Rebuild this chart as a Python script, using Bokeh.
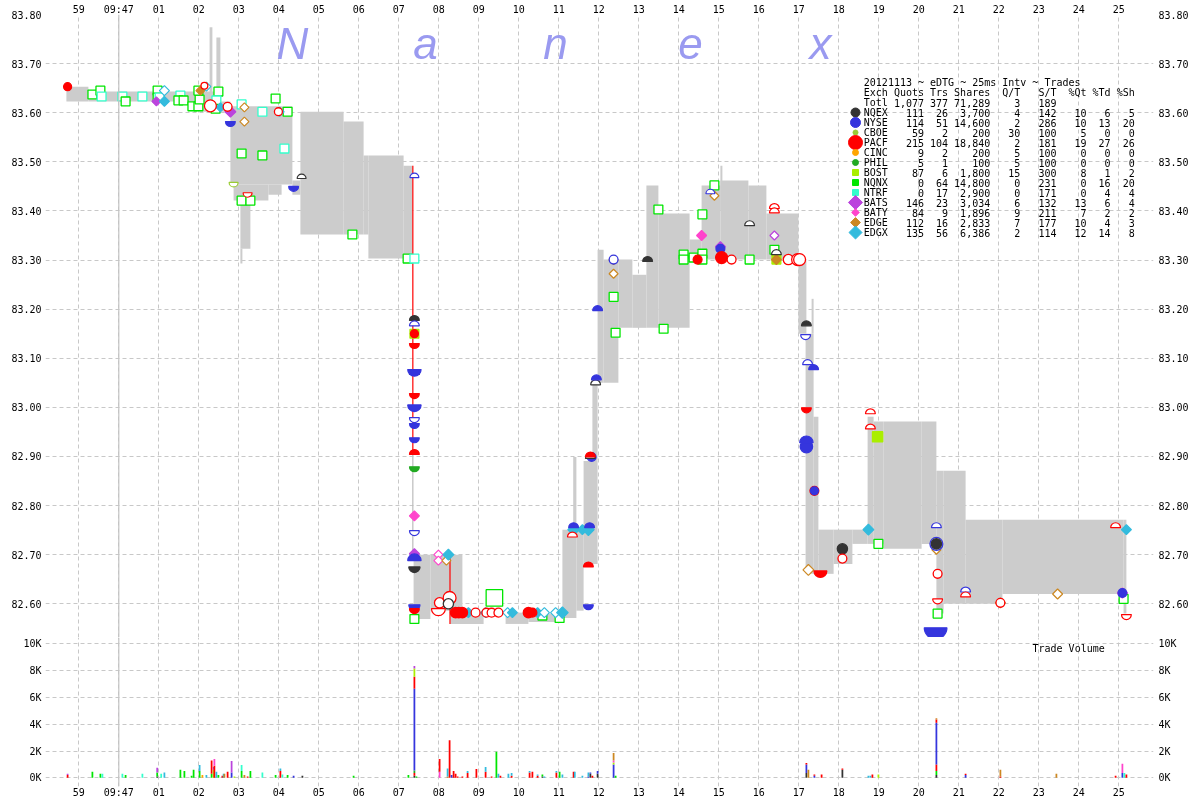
import math
from bokeh.plotting import figure
from bokeh.layouts import column
from bokeh.models import ColumnDataSource, FixedTicker, Range1d, Span, NumeralTickFormatter, LinearAxis
from bokeh.core.properties import value
from bokeh.embed import file_html
from bokeh.resources import INLINE

# ------------------------------------------------------------------ data
TICK_SECONDS = list(range(27))
TICK_LABELS = ["59", "09:47"] + ["%02d" % i for i in range(1, 26)]
PRICE_TICKS = [82.6, 82.7, 82.8, 82.9, 83.0, 83.1, 83.2, 83.3, 83.4, 83.5, 83.6, 83.7, 83.8]
VOL_TICKS = [0, 2000, 4000, 6000, 8000, 10000]
VOL_LABELS = ["0K", "2K", "4K", "6K", "8K", "10K"]

LEG_TITLE = "20121113 ~ eDTG ~ 25ms Intv ~ Trades"
LEG_HEAD = ["Quots", "Trs", "Shares", "Q/T", "S/T", "%Qt", "%Td", "%Sh"]
TOTALS = [1077, 377, 71289, 3, 189]
EXCH = ["NQEX", "NYSE", "CBOE", "PACF", "CINC", "PHIL", "BOST", "NQNX", "NTRF", "BATS", "BATY", "EDGE", "EDGX"]
QUOTS = [111, 114, 59, 215, 9, 5, 87, 0, 0, 146, 84, 112, 135]
TRS = [26, 51, 2, 104, 2, 1, 6, 64, 17, 23, 9, 16, 56]
SHARES = [3700, 14600, 200, 18840, 200, 100, 1800, 14800, 2900, 3034, 1896, 2833, 6386]
Q_T = [4, 2, 30, 2, 5, 5, 15, 0, 0, 6, 9, 7, 2]
S_T = [142, 286, 100, 181, 100, 100, 300, 231, 171, 132, 211, 177, 114]
PCT_QT = [10, 10, 5, 19, 0, 0, 8, 0, 0, 13, 7, 10, 12]
PCT_TD = [6, 13, 0, 27, 0, 0, 1, 16, 4, 6, 2, 4, 14]
PCT_SH = [5, 20, 0, 26, 0, 0, 2, 20, 4, 4, 2, 3, 8]

# NBBO spread band (seconds after 09:46:59, bid, ask)
BAND_T0 = [-0.31, 0.24, 2.97, 3.27, 3.44, 3.54, 3.79, 3.87, 4.74, 4.04, 4.04, 5.34, 5.54, 6.62, 7.12, 7.24, 8.12,
           8.37, 8.79, 9.29, 10.67, 11.24, 12.09, 12.44, 12.36, 12.62, 12.84, 12.97, 13.12, 13.49, 13.84, 14.19,
           14.49, 15.27, 15.57, 16.04, 16.04, 16.74, 17.19, 17.99, 18.17, 18.32, 18.37, 18.49, 18.87, 19.34, 19.72,
           19.87, 20.12, 21.07, 21.44, 21.62, 22.17, 23.09, 26.12]
BAND_T1 = [0.24, 2.97, 3.54, 3.34, 3.54, 3.79, 5.34, 4.74, 5.07, 4.29, 4.09, 5.54, 6.62, 7.12, 7.24, 8.12, 8.34,
           8.79, 9.59, 10.12, 11.24, 12.09, 12.44, 12.62, 12.44, 12.97, 12.97, 13.12, 13.49, 13.84, 14.19, 14.49,
           15.27, 15.57, 16.04, 16.74, 16.09, 17.19, 17.99, 18.19, 18.37, 18.37, 18.49, 18.87, 19.34, 19.72, 19.87,
           20.12, 21.07, 21.44, 21.62, 22.17, 23.09, 26.12, 26.19]
BAND_BID = [83.623, 83.623, 83.602, 83.620, 83.620, 83.602, 83.454, 83.421, 83.433, 83.323, 83.293, 83.433, 83.352,
            83.352, 83.352, 83.303, 83.303, 82.569, 82.586, 82.559, 82.559, 82.563, 82.571, 82.586, 82.751, 82.681,
            82.891, 83.050, 83.050, 83.162, 83.162, 83.162, 83.162, 83.301, 83.301, 83.301, 83.400, 83.301, 83.301,
            83.150, 82.661, 83.150, 82.661, 82.661, 82.681, 82.722, 82.722, 82.722, 82.712, 82.722, 82.580, 82.600,
            82.600, 82.620, 82.580]
BAND_ASK = [83.653, 83.643, 83.643, 83.774, 83.753, 83.623, 83.613, 83.454, 83.454, 83.421, 83.323, 83.462, 83.602,
            83.582, 83.513, 83.513, 83.492, 82.700, 82.700, 82.582, 82.582, 82.580, 82.751, 82.751, 82.899, 82.891,
            83.050, 83.321, 83.301, 83.301, 83.270, 83.452, 83.395, 83.342, 83.452, 83.462, 83.492, 83.452, 83.395,
            83.301, 83.150, 83.221, 82.981, 82.751, 82.751, 82.751, 82.981, 82.971, 82.971, 82.971, 82.871, 82.871,
            82.771, 82.771, 82.771]

# trade-through lines
LINE_T = [8.35, 8.35, 9.28]
LINE_P0 = [83.492, 82.905, 82.700]
LINE_P1 = [82.905, 82.700, 82.559]
LINE_EX = ["PACF", "", "PACF"]

# trades: time, price, exchange, kind (F filled, H hollow, U/u upper half, D/d lower half), shares
TR_T = [-0.28, 0.34, 0.54, 0.57, 1.09, 1.17, 1.59, 1.94, 1.97, 1.97, 2.02, 2.14, 2.14, 2.54, 2.49, 2.62, 2.84, 2.99,
        3.02, 2.99, 3.04, 3.14, 3.19, 3.49, 3.44, 3.42, 3.29, 3.72, 3.54, 3.79, 3.79, 4.07, 4.14, 4.14, 4.59, 4.92,
        4.99, 5.02, 5.22, 5.14, 4.07, 4.59, 3.87, 4.22, 4.07, 4.29, 5.57, 5.37, 6.84, 8.39, 8.22, 8.39,
        8.39, 8.39, 8.39, 8.39, 8.39, 8.39, 8.39, 8.39, 8.39, 8.39, 8.39,
        8.39, 8.39, 8.39, 8.39, 8.39, 8.39, 8.39, 8.39, 8.39, 8.39, 8.39,
        8.99, 8.99, 9.19, 9.24, 9.02, 8.99, 9.27, 9.24, 9.42, 9.50, 9.59, 9.74, 9.92, 10.17,
        10.19, 10.32, 10.49, 10.39, 10.72, 10.84, 11.24, 11.34, 11.47, 11.59, 11.64, 11.92, 12.09, 12.02,
        12.37, 12.37, 12.59, 12.77, 12.74, 12.34, 12.74, 12.74, 12.79, 12.79, 12.82, 12.92, 12.94, 12.97, 13.37,
        13.37, 13.37, 13.37, 13.42,
        14.22, 14.49, 14.62, 15.12, 15.12, 15.37, 15.59, 15.59, 15.59, 15.57, 15.47, 15.79, 15.89, 15.89, 16.04,
        16.04, 16.07, 16.32, 16.77, 16.77, 17.39, 17.39, 17.39, 17.39, 17.44, 17.44, 17.44, 17.74, 17.97, 18.02,
        18.19, 18.17, 18.22, 18.37, 18.19, 18.19, 18.19, 18.39, 18.39, 18.24, 18.54, 19.09, 19.09, 19.74, 19.99,
        19.79, 19.79, 19.97,
        21.44, 21.44, 21.44, 21.44, 21.47, 21.47, 21.47, 21.42, 22.17, 22.17, 23.04, 23.04, 24.47, 25.92, 26.19,
        26.09, 26.09, 26.12, 26.19]
TR_P = [83.653, 83.637, 83.645, 83.633, 83.633, 83.623, 83.633, 83.623, 83.645, 83.631, 83.631, 83.645, 83.623,
        83.635, 83.625, 83.625, 83.613, 83.613, 83.627, 83.645, 83.645, 83.655, 83.653, 83.643, 83.625, 83.608,
        83.614, 83.612, 83.611, 83.602, 83.582, 83.617, 83.611, 83.582, 83.602, 83.629, 83.602, 83.602, 83.602,
        83.527, 83.517, 83.513, 83.458, 83.437, 83.421, 83.421, 83.466, 83.450, 83.352, 83.468, 83.303, 83.303,
        83.177, 83.166, 83.150, 83.150, 83.130, 83.077, 83.067, 83.028, 83.005, 82.979, 82.967,
        82.938, 82.904, 82.879, 82.779, 82.749, 82.702, 82.688, 82.675, 82.598, 82.590, 82.569,
        82.700, 82.688, 82.688, 82.700, 82.602, 82.590, 82.612, 82.600, 82.582, 82.582, 82.582, 82.582, 82.582,
        82.582, 82.582, 82.582, 82.582, 82.612, 82.582, 82.582, 82.582, 82.582, 82.582, 82.576, 82.582, 82.582,
        82.582, 82.571,
        82.755, 82.751, 82.751, 82.755, 82.751, 82.736, 82.675, 82.598, 82.896, 82.899, 82.899, 83.046, 83.056,
        83.197, 83.301, 83.300, 83.272, 83.225, 83.152,
        83.297, 83.403, 83.160, 83.311, 83.301, 83.305, 83.313, 83.301, 83.393, 83.350, 83.301, 83.435, 83.431,
        83.452, 83.327, 83.323, 83.305, 83.301, 83.301, 83.370, 83.405, 83.396, 83.350, 83.321, 83.311, 83.301,
        83.301, 83.301, 83.301, 83.301,
        83.166, 83.148, 83.087, 83.077, 82.999, 82.928, 82.920, 82.830, 82.830, 82.669, 82.667, 82.712, 82.692,
        82.751, 82.722, 82.987, 82.956, 82.940,
        82.755, 82.722, 82.722, 82.710, 82.661, 82.610, 82.580, 82.551, 82.624, 82.614, 82.602, 82.602, 82.620,
        82.755, 82.751, 82.622, 82.622, 82.610, 82.578]
TR_EX = ["PACF", "NQNX", "NQNX", "NTRF", "NTRF", "NQNX", "NTRF", "BATS", "NQNX", "NQNX", "NTRF", "EDGX", "EDGX",
         "NTRF", "NQNX", "NQNX", "NQNX", "NQNX", "NQNX", "NQNX", "EDGE", "PACF", "EDGX", "NQNX", "NTRF", "NQNX",
         "PACF", "PACF", "EDGX", "BATS", "NYSE", "NTRF", "EDGE", "EDGE", "NTRF", "NQNX", "PACF", "EDGX", "NQNX",
         "NTRF", "NQNX", "NQNX", "CBOE", "PACF", "NQNX", "NQNX", "NQEX", "NYSE", "NQNX", "NYSE", "NQNX", "NTRF",
         "NQEX", "NYSE", "BOST", "PACF", "PACF", "NYSE", "NQEX", "PACF", "NYSE", "NYSE", "NYSE",
         "NYSE", "PACF", "PHIL", "BATY", "NYSE", "BATS", "NYSE", "NQEX", "NYSE", "PACF", "NQNX",
         "BATY", "BATY", "EDGE", "EDGX", "PACF", "PACF", "PACF", "NQEX", "PACF", "PACF", "PACF", "EDGX", "PACF",
         "EDGX", "PACF", "PACF", "PACF", "NQNX", "EDGX", "EDGX", "PACF", "PACF", "EDGX", "NQNX", "EDGX", "EDGX",
         "EDGX", "NQNX",
         "NYSE", "EDGX", "EDGX", "NYSE", "EDGX", "PACF", "PACF", "NYSE", "NQEX", "PACF", "NYSE", "NQEX", "NYSE",
         "NYSE", "NYSE", "EDGE", "EDGE", "NQNX", "NQNX",
         "NQEX", "NQNX", "NQNX", "NQNX", "NQNX", "NQNX", "NQNX", "NQNX", "NQNX", "BATY", "PACF", "NYSE", "EDGE",
         "NQNX", "BATS", "NYSE", "PACF", "PACF", "NQNX", "NQEX", "PACF", "PACF", "BATS", "NQNX", "NQEX", "BOST",
         "EDGE", "PACF", "PACF", "PACF",
         "NQEX", "NYSE", "NYSE", "NYSE", "PACF", "NYSE", "NYSE", "PACF", "NYSE", "EDGE", "PACF", "NQEX", "PACF",
         "EDGX", "NQNX", "PACF", "PACF", "BOST",
         "NYSE", "NYSE", "NQEX", "EDGE", "PACF", "PACF", "NQNX", "NYSE", "NYSE", "PACF", "EDGE", "PACF", "EDGE",
         "PACF", "EDGX", "BATY", "NYSE", "NQNX", "PACF"]
TR_KIND = list("FHHHHHHFHHHHFHHHHHHHFHHHHHHHFFDHHHHHHFHHHHddHHuDHuHH"
               "UuFFDDUDDdDDUDFdFUDDDH"
               "HHHFHdHHFFFFHFHHHHHFFFFHHHFH"
               "UFFUFuUDuUFuUUHHHHH"
               "UHHHHHHHHFFuHHFFFHHuuuHHuFFHHH"
               "UduUDUFFFHDFHFHuuF"
               "uHFHHdHDuuHHHuFHFHd")
TR_SH = [200, 300, 300, 300, 300, 300, 300, 200, 300, 300, 300, 300, 300, 300, 300, 300, 300, 300, 300, 300, 200,
         100, 200, 300, 300, 300, 800, 300, 200, 400, 300, 300, 200, 200, 300, 300, 200, 200, 300, 300, 300, 300,
         200, 200, 300, 300, 200, 300, 300, 200, 300, 300,
         300, 300, 300, 200, 300, 900, 300, 300, 900, 300, 300,
         300, 300, 300, 300, 300, 300, 900, 500, 500, 300, 300,
         200, 200, 200, 400, 500, 1000, 1000, 500, 500, 500, 500, 300, 300, 300,
         300, 300, 300, 2000, 300, 300, 500, 300, 300, 300, 300, 300, 500, 300,
         300, 500, 300, 300, 500, 300, 300, 300, 300, 300, 300, 300, 300, 300, 300, 200, 200, 300, 300,
         300, 300, 300, 300, 300, 300, 300, 300, 300, 300, 300, 200, 200, 300, 300, 300, 800, 300, 300, 300, 300,
         300, 200, 300, 300, 300, 300, 500, 800, 800,
         300, 300, 300, 300, 300, 900, 900, 300, 200, 400, 800, 500, 300, 400, 300, 300, 300, 500,
         300, 1000, 500, 200, 300, 300, 300, 4000, 300, 300, 300, 300, 300, 300, 300, 300, 300, 300, 300]

# trade volume (stacked in listed order at equal times)
VOL_T = [-0.28, -0.28, 0.34, 0.54, 0.59, 1.09, 1.17, 1.59, 1.96, 1.96, 1.96, 2.06, 2.14, 2.54, 2.64, 2.82, 2.87,
         3.02, 3.02, 3.09, 3.19, 3.32, 3.32, 3.37, 3.37, 3.39, 3.39, 3.44, 3.49, 3.59, 3.62, 3.64, 3.72, 3.82, 3.82,
         3.89, 4.07, 4.07, 4.14, 4.22, 4.29, 4.59, 4.92, 5.04, 5.04, 5.09, 5.22, 5.37, 5.59, 6.87, 8.24,
         8.39, 8.39, 8.39, 8.39, 8.39, 8.39, 8.39, 8.44, 9.02, 9.02, 9.22, 9.22, 9.27, 9.32, 9.37, 9.42, 9.47, 9.59,
         9.72, 9.72, 9.94, 10.17, 10.17, 10.32, 10.44, 10.49, 10.54, 10.74, 10.82, 10.82, 11.27, 11.27, 11.34,
         11.47, 11.47, 11.59, 11.59, 11.64, 11.94, 11.94, 12.02, 12.09, 12.37, 12.40, 12.59, 12.74, 12.74, 12.79,
         12.79, 12.84, 12.97, 12.97, 13.37, 13.37, 13.37, 13.37, 13.42,
         18.19, 18.19, 18.19, 18.24, 18.39, 18.39, 18.57, 19.09, 19.09, 19.74, 19.79, 19.84, 19.99,
         21.44, 21.44, 21.44, 21.44, 21.44, 21.44, 22.17, 22.17, 23.04, 23.04, 24.44, 25.92, 26.09, 26.09, 26.14,
         26.19]
VOL_EX = ["PACF", "BATS", "NQNX", "NQNX", "NTRF", "NTRF", "NQNX", "NTRF", "NQEX", "NQNX", "BATS", "NTRF", "EDGX",
          "NQNX", "NQNX", "NQNX", "NQNX", "NQNX", "EDGX", "CINC", "EDGX", "NQNX", "PACF", "BOST", "BATS", "PACF",
          "BATY", "EDGX", "NQNX", "PACF", "EDGX", "EDGE", "PACF", "NYSE", "BATS", "BOST", "NQNX", "NTRF", "EDGE",
          "PACF", "NQNX", "NTRF", "NQNX", "PACF", "EDGX", "NTRF", "NQNX", "NYSE", "NQEX", "NQNX", "NQNX",
          "NQEX", "PACF", "PHIL", "NYSE", "PACF", "BOST", "BATS", "NQNX", "BATY", "PACF", "EDGE", "EDGX", "PACF",
          "NYSE", "PACF", "PACF", "PACF", "PACF", "PACF", "EDGX", "PACF", "PACF", "EDGX", "PACF", "NQNX", "EDGX",
          "PACF", "EDGX", "PACF", "EDGX", "PACF", "EDGX", "PACF", "PACF", "EDGX", "NQEX", "NQNX", "EDGX", "PACF",
          "EDGX", "NQNX", "EDGX", "PACF", "EDGX", "EDGX", "NYSE", "EDGX", "NQEX", "NYSE", "PACF", "NQEX", "NYSE",
          "NYSE", "BOST", "BATY", "EDGE", "NQNX",
          "NQEX", "NYSE", "PACF", "EDGE", "NYSE", "PACF", "PACF", "NQEX", "PACF", "EDGX", "EDGX", "PACF", "BOST",
          "NQEX", "NQNX", "PACF", "NYSE", "PACF", "EDGE", "NYSE", "PACF", "PACF", "EDGE", "EDGE", "PACF", "NYSE",
          "BATY", "NTRF", "PACF"]
VOL_SH = [200, 100, 450, 300, 300, 300, 200, 300, 100, 300, 350, 300, 400, 600, 500, 150, 600, 500, 450, 200, 200,
          300, 1000, 600, 200, 900, 500, 450, 200, 150, 300, 300, 450, 400, 850, 100, 500, 450, 200, 100, 500, 400,
          200, 500, 200, 250, 200, 150, 150, 150, 200,
          150, 200, 200, 6100, 900, 600, 200, 100, 450, 950, 100, 600, 2800, 200, 500, 300, 100, 100, 350, 150, 650,
          450, 350, 100, 1950, 300, 150, 300, 150, 200, 400, 100, 450, 150, 100, 100, 150, 100, 400, 100, 450, 250,
          450, 450, 150, 100, 300, 300, 100, 150, 300, 200, 1000, 150, 150, 550, 150,
          350, 650, 100, 600, 150, 100, 250, 600, 100, 150, 150, 250, 250,
          200, 300, 500, 3100, 250, 100, 200, 100, 100, 500, 300, 150, 350, 700, 350, 250]

# ------------------------------------------------------------------ styles
EX_COLOR = {"NQEX": "#333333", "NYSE": "#3535dd", "CBOE": "#99cc33", "PACF": "#ff0000", "CINC": "#ffa500",
            "PHIL": "#22aa22", "BOST": "#aaee00", "NQNX": "#00e600", "NTRF": "#33ffcc", "BATS": "#bb44dd",
            "BATY": "#ff44cc", "EDGE": "#cc8822", "EDGX": "#33bbdd"}
FAMILY = {"NQEX": "circle", "NYSE": "circle", "CBOE": "circle", "PACF": "circle", "CINC": "circle",
          "PHIL": "circle", "BOST": "square", "NQNX": "square", "NTRF": "square", "BATS": "diamond",
          "BATY": "diamond", "EDGE": "diamond", "EDGX": "diamond"}
LEG_SIZE = [9, 10, 5, 14, 6, 6, 6, 6, 6, 13, 7, 9, 12]
MONO = value("DejaVu Sans Mono")
GRID_C = "#c8c8c8"

# pixel layout of the reference (used for the ranges and the annotation placement)
PPX = 1.2 / (603.3 - 14.0)
SPLIT = 637  # pixel row where the price panel ends and the volume panel starts


def t_at(px):
    return (px - 78.3) / 40.0


def p_at(py):
    return 83.80 - (py - 14.0) * PPX


def v_at(py):
    return (777.3 - py) * 1000.0 / 13.4


xr = Range1d(t_at(45), t_at(1153))


def style_axis(ax):
    ax.axis_line_color = None
    ax.major_tick_line_color = None
    ax.minor_tick_line_color = None
    ax.major_tick_out = 0
    ax.major_tick_in = 0
    ax.major_label_text_font = "DejaVu Sans Mono"
    ax.major_label_text_font_size = "10px"
    ax.major_label_text_color = "#000000"


# ------------------------------------------------------------------ price figure
p1 = figure(width=1200, height=SPLIT, x_range=xr, y_range=Range1d(p_at(SPLIT), 83.80),
            x_axis_location="above", output_backend="svg", toolbar_location=None,
            min_border_left=45, min_border_right=47, min_border_top=14, min_border_bottom=0,
            outline_line_color=None, background_fill_color="white", border_fill_color="white")
p1.xaxis.ticker = FixedTicker(ticks=TICK_SECONDS)
p1.xaxis.major_label_overrides = dict(zip(TICK_SECONDS, TICK_LABELS))
p1.xaxis.major_label_standoff = 0
p1.yaxis.ticker = FixedTicker(ticks=PRICE_TICKS)
p1.yaxis.formatter = NumeralTickFormatter(format="0.00")
p1.yaxis.major_label_standoff = 4
ax_r = LinearAxis(ticker=FixedTicker(ticks=PRICE_TICKS), formatter=NumeralTickFormatter(format="0.00"),
                  major_label_standoff=5)
p1.add_layout(ax_r, "right")
for ax in list(p1.xaxis) + list(p1.yaxis) + [ax_r]:
    style_axis(ax)
p1.xgrid.ticker = FixedTicker(ticks=TICK_SECONDS)
p1.ygrid.ticker = FixedTicker(ticks=PRICE_TICKS)
for g in (p1.xgrid, p1.ygrid):
    g.grid_line_color = GRID_C
    g.grid_line_dash = "4 3"
    g.grid_line_width = 1
p1.add_layout(Span(location=1, dimension="height", line_color="#c4c4c4", line_width=1.2))

# watermark
p1.text(x=[t_at(px) for px in (292, 425, 555, 690, 820)], y=[p_at(43)] * 5, text=list("Nanex"),
        text_font=value("Liberation Sans"), text_font_style="italic", text_font_size="44px",
        text_color="#9a9af0", text_align="center", text_baseline="middle")

# NBBO band
p1.quad(left=BAND_T0, right=BAND_T1, bottom=BAND_BID, top=BAND_ASK, fill_color="#cccccc", line_color=None)

# trade-through lines
p1.segment(x0=LINE_T, y0=LINE_P0, x1=LINE_T, y1=LINE_P1,
           line_color=[EX_COLOR[e] if e else "#bbbbbb" for e in LINE_EX],
           line_width=1.5, line_alpha=0.8)


def msize(sh):
    return 4 + 2.8 * math.sqrt(sh / 100.0)


groups = {k: dict(t=[], p=[], s=[], fc=[], lc=[]) for k in ("square", "diamond", "circle", "up", "down")}
for t, pr, ex, kd, sh in zip(TR_T, TR_P, TR_EX, TR_KIND, TR_SH):
    col = EX_COLOR[ex]
    fc = col if kd in "FUD" else "white"
    if kd in "Uu":
        g = "up"
    elif kd in "Dd":
        g = "down"
    else:
        g = FAMILY[ex]
    s = msize(sh)
    if g == "diamond":
        s = s / 1.25
    if g in ("up", "down"):
        s = s / 2.0 + 0.5
    G = groups[g]
    G["t"].append(t); G["p"].append(pr); G["s"].append(s); G["fc"].append(fc); G["lc"].append(col)

p1.scatter("t", "p", size="s", marker="square", fill_color="fc", line_color="lc", line_width=1.3,
           source=ColumnDataSource(groups["square"]))
p1.scatter("t", "p", size="s", marker="square", angle=math.pi / 4, fill_color="fc", line_color="lc",
           line_width=1.2, source=ColumnDataSource(groups["diamond"]))
p1.scatter("t", "p", size="s", marker="circle", fill_color="fc", line_color="lc", line_width=1.3,
           source=ColumnDataSource(groups["circle"]))
p1.wedge("t", "p", radius="s", radius_units="screen", start_angle=0, end_angle=math.pi,
         fill_color="fc", line_color="lc", line_width=1.2, source=ColumnDataSource(groups["up"]))
p1.wedge("t", "p", radius="s", radius_units="screen", start_angle=math.pi, end_angle=2 * math.pi,
         fill_color="fc", line_color="lc", line_width=1.2, source=ColumnDataSource(groups["down"]))

# legend table
LX = 863.3
CW = 6.02
COL_END = [9, 13, 20, 25, 31, 36, 40, 44]
lx, ly, lt = [t_at(LX)], [p_at(82)], [LEG_TITLE]
lx.append(t_at(LX)); ly.append(p_at(92)); lt.append("Exch")
lx.append(t_at(LX)); ly.append(p_at(102)); lt.append("Totl")
rx, ry, rt = [], [], []
for c, h in zip(COL_END, LEG_HEAD):
    rx.append(t_at(LX + CW * (c + 1))); ry.append(p_at(92)); rt.append(h)
for c, v in zip(COL_END, TOTALS):
    rx.append(t_at(LX + CW * (c + 1))); ry.append(p_at(102)); rt.append("{:,}".format(v))
for i, ex in enumerate(EXCH):
    yy = p_at(112 + 10 * i)
    lx.append(t_at(LX)); ly.append(yy); lt.append(ex)
    vals = [QUOTS[i], TRS[i], SHARES[i], Q_T[i], S_T[i], PCT_QT[i], PCT_TD[i], PCT_SH[i]]
    for c, v in zip(COL_END, vals):
        rx.append(t_at(LX + CW * (c + 1))); ry.append(yy); rt.append("{:,}".format(v))
p1.text(x=lx, y=ly, text=lt, text_font=MONO, text_font_size="10px", text_color="#000000",
        text_align="left", text_baseline="middle")
p1.text(x=rx, y=ry, text=rt, text_font=MONO, text_font_size="10px", text_color="#000000",
        text_align="right", text_baseline="middle")
leg = dict(t=[t_at(855)] * len(EXCH), p=[p_at(112 + 10 * i) for i in range(len(EXCH))],
           c=[EX_COLOR[e] for e in EXCH],
           s=[s / 1.3 if FAMILY[e] == "diamond" else s for s, e in zip(LEG_SIZE, EXCH)],
           m=["circle" if FAMILY[e] == "circle" else "square" for e in EXCH],
           a=[math.pi / 4 if FAMILY[e] == "diamond" else 0 for e in EXCH])
p1.scatter("t", "p", size="s", marker="m", angle="a", fill_color="c", line_color="c",
           source=ColumnDataSource(leg))

# ------------------------------------------------------------------ volume figure
p2 = figure(width=1200, height=800 - SPLIT, x_range=xr, y_range=Range1d(v_at(786), v_at(SPLIT)),
            x_axis_location="below", output_backend="svg", toolbar_location=None,
            min_border_left=45, min_border_right=47, min_border_top=0, min_border_bottom=14,
            outline_line_color=None, background_fill_color="white", border_fill_color="white")
p2.xaxis.ticker = FixedTicker(ticks=TICK_SECONDS)
p2.xaxis.major_label_overrides = dict(zip(TICK_SECONDS, TICK_LABELS))
p2.xaxis.major_label_standoff = 0
p2.yaxis.ticker = FixedTicker(ticks=VOL_TICKS)
p2.yaxis.major_label_overrides = dict(zip(VOL_TICKS, VOL_LABELS))
p2.yaxis.major_label_standoff = 4
ax_r2 = LinearAxis(ticker=FixedTicker(ticks=VOL_TICKS), major_label_overrides=dict(zip(VOL_TICKS, VOL_LABELS)),
                   major_label_standoff=5)
p2.add_layout(ax_r2, "right")
for ax in list(p2.xaxis) + list(p2.yaxis) + [ax_r2]:
    style_axis(ax)
p2.xgrid.ticker = FixedTicker(ticks=TICK_SECONDS)
p2.ygrid.ticker = FixedTicker(ticks=VOL_TICKS)
for g in (p2.xgrid, p2.ygrid):
    g.grid_line_color = GRID_C
    g.grid_line_dash = "4 3"
    g.grid_line_width = 1
p2.add_layout(Span(location=1, dimension="height", line_color="#c4c4c4", line_width=1.2))

stack = {}
vb = dict(l=[], r=[], b=[], t=[], c=[])
for t, ex, sh in zip(VOL_T, VOL_EX, VOL_SH):
    b = stack.get(t, 0)
    vb["l"].append(t - 0.022); vb["r"].append(t + 0.022)
    vb["b"].append(b); vb["t"].append(b + sh); vb["c"].append(EX_COLOR[ex])
    stack[t] = b + sh
p2.quad(left="l", right="r", bottom="b", top="t", fill_color="c", line_color=None, source=ColumnDataSource(vb))
p2.text(x=[t_at(1032)], y=[v_at(648)], text=["Trade Volume"], text_font=MONO, text_font_size="10px",
        text_color="#000000", text_align="left", text_baseline="middle")

layout = column(p1, p2, spacing=0, styles={"position": "fixed", "top": "0px", "left": "0px"})
open("out.html", "w").write(file_html(layout, INLINE))
